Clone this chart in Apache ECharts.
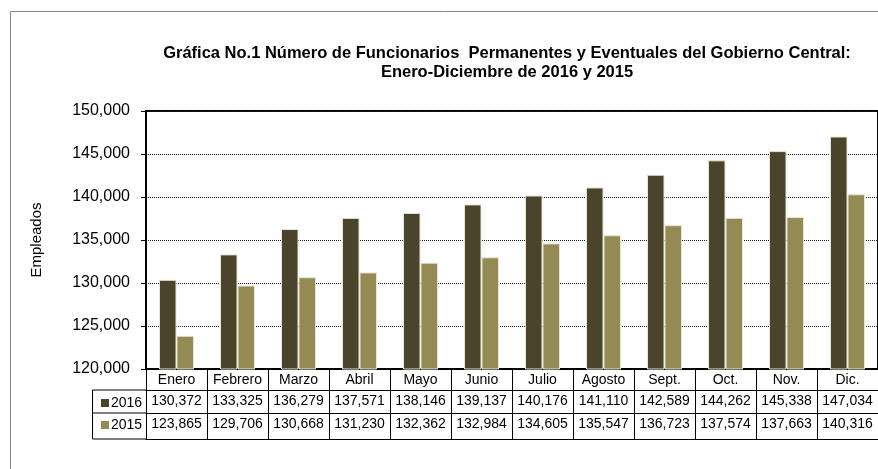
<!DOCTYPE html>
<html>
<head>
<meta charset="utf-8">
<script src="https://cdn.jsdelivr.net/npm/echarts@6/dist/echarts.min.js"></script>
<style>
  html, body { margin: 0; padding: 0; background: #fff; }
  #main { width: 878px; height: 469px; }
</style>
</head>
<body>
<div id="main"></div>
<script>
// datos de la grafica
var meses = ['Enero', 'Febrero', 'Marzo', 'Abril', 'Mayo', 'Junio', 'Julio', 'Agosto', 'Sept.', 'Oct.', 'Nov.', 'Dic.'];
var datos2016 = [130372, 133325, 136279, 137571, 138146, 139137, 140176, 141110, 142589, 144262, 145338, 147034];
var datos2015 = [123865, 129706, 130668, 131230, 132362, 132984, 134605, 135547, 136723, 137574, 137663, 140316];
var series_nombres = ['2016', '2015'];

var FONT = 'Liberation Sans, Arial, sans-serif';

function fmt(v) {
	return Number(v).toLocaleString('en-US');
}

function tablaEje(datos, offset, largo, mostrarLinea) {
	return {
		type: 'category',
		position: 'bottom',
		gridIndex: 0,
		offset: offset,
		data: datos,
		axisLine: { show: mostrarLinea, lineStyle: { color: '#000', width: 1 } },
		axisTick: { show: largo > 0, interval: 0, length: largo, lineStyle: { color: '#000', width: 1 } },
		axisLabel: { show: largo > 0, interval: 0, margin: 4, fontSize: 14, color: '#000', fontFamily: FONT },
		splitLine: { show: false }
	};
}

var myChart = echarts.init(document.getElementById('main'));

var option = {
	animation: false,
	backgroundColor: '#fff',
	title: {
		text: 'Gráfica No.1 Número de Funcionarios  Permanentes y Eventuales del Gobierno Central:\nEnero-Diciembre de 2016 y 2015',
		left: 502,
		top: 39,
		textAlign: 'center',
		textStyle: { fontSize: 16.5, fontWeight: 'bold', color: '#000', fontFamily: FONT, lineHeight: 19 }
	},
	legend: {
		data: series_nombres,
		orient: 'vertical',
		left: 96,
		top: 391,
		itemWidth: 8,
		itemHeight: 8,
		itemGap: 8,
		icon: 'rect',
		itemStyle: { borderWidth: 0 },
		textStyle: { fontSize: 14, color: '#000', fontFamily: FONT, padding: [0, 0, 0, -3] }
	},
	grid: {
		left: 146,
		top: 111,
		width: 736,
		height: 258,
		show: true,
		borderColor: '#000',
		borderWidth: 2
	},
	xAxis: [
		{
			type: 'category',
			data: meses,
			axisLine: { show: true, lineStyle: { color: '#000', width: 2 } },
			axisTick: { show: true, interval: 0, length: 21, lineStyle: { color: '#000', width: 1 } },
			axisLabel: { interval: 0, margin: 4, fontSize: 14, color: '#000', fontFamily: FONT },
			splitLine: { show: false }
		},
		tablaEje(datos2016.map(fmt), 21, 23, true),
		tablaEje(datos2015.map(fmt), 44, 26, true),
		tablaEje(meses, 70, 0, true)
	],
	yAxis: {
		type: 'value',
		min: 120000,
		max: 150000,
		interval: 5000,
		name: 'Empleados',
		nameLocation: 'middle',
		nameRotate: 90,
		nameGap: 102,
		nameTextStyle: { fontSize: 15, color: '#000', fontFamily: FONT },
		axisLine: { show: true, lineStyle: { color: '#000', width: 2 } },
		axisTick: { show: true, length: 5, lineStyle: { color: '#000', width: 1 } },
		axisLabel: { margin: 16, fontSize: 16, color: '#000', fontFamily: FONT, formatter: fmt },
		splitLine: { show: true, lineStyle: { color: '#222', width: 1, type: 'dotted' } }
	},
	series: [
		{
			name: '2016',
			type: 'bar',
			data: datos2016,
			barWidth: 17.5,
			barGap: '0%',
			itemStyle: { color: '#4a452a', borderColor: '#e6e4d6', borderWidth: 1 }
		},
		{
			name: '2015',
			type: 'bar',
			data: datos2015,
			barWidth: 17.5,
			barGap: '0%',
			itemStyle: { color: '#948a54', borderColor: '#e6e4d6', borderWidth: 1 }
		}
	],
	graphic: [
		{
			// marco exterior
			type: 'rect',
			shape: { x: 10.5, y: 11.5, width: 900, height: 500 },
			style: { fill: null, stroke: '#888', lineWidth: 1 },
			silent: true
		},
		{
			// columna de la leyenda de la tabla
			type: 'rect',
			shape: { x: 92.5, y: 390, width: 54, height: 49 },
			style: { fill: null, stroke: '#000', lineWidth: 1 },
			silent: true
		},
		{
			type: 'line',
			shape: { x1: 92.5, y1: 413, x2: 146, y2: 413 },
			style: { stroke: '#000', lineWidth: 1 },
			silent: true
		}
	]
};

myChart.setOption(option);
</script>
</body>
</html>
